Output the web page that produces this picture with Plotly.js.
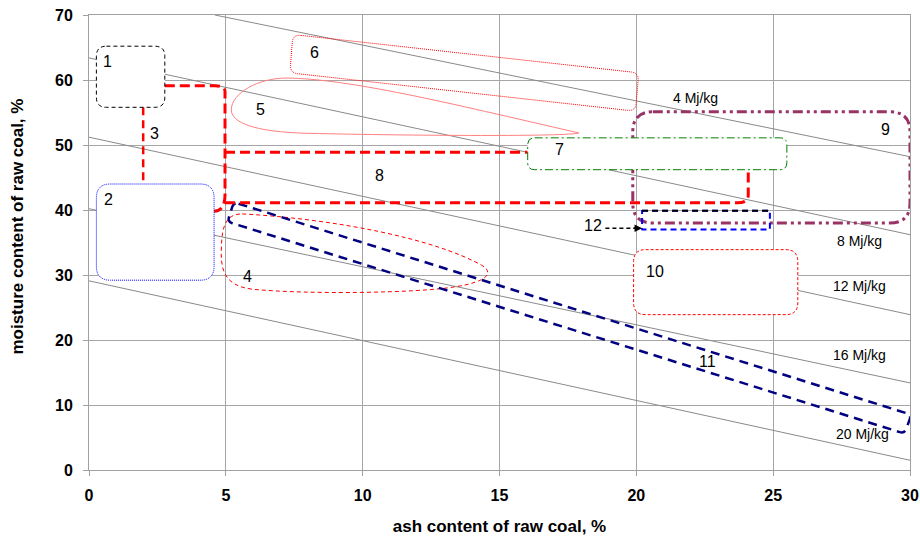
<!DOCTYPE html>
<html>
<head>
<meta charset="utf-8">
<script src="https://cdn.plot.ly/plotly-3.0.1.min.js"></script>
<style>html,body{margin:0;padding:0;background:#fff;}#chart{width:920px;height:538px;}</style>
</head>
<body>
<div id="chart"></div>
<script>
// ---- data ----
// calorific isolines (ash %, moisture %)
const isoX = [[4.6, 30], [0, 30], [0, 30], [0, 30], [0, 30]];
const isoY = [[70, 48.2], [63.4, 36.2], [51.2, 23.9], [40.2, 13.4], [29.1, 1.5]];
const isoLabels = ['4 Mj/kg', '8 Mj/kg', '12 Mj/kg', '16 Mj/kg', '20 Mj/kg'];
const isoLabelX = [22.16, 28.14, 28.14, 28.14, 28.26];
const isoLabelY = [57.2, 35.2, 28.25, 17.7, 5.6];

// rectangular regions [ash min, ash max, moisture min, moisture max]
const region1 = [0.27, 2.77, 55.8, 65.2];
const region2 = [0.27, 4.57, 29.2, 44.0];
const region7 = [16.03, 25.5, 46.2, 51.1];
const region9 = [19.87, 30.0, 38.0, 55.1];
const region10 = [19.9, 25.9, 23.9, 33.9];
const region12 = [20.21, 24.88, 37.0, 39.9];
// slanted regions (corner points)
const region6X = [7.45, 20.09, 19.97, 7.34];
const region6Y = [67.0, 61.1, 55.2, 61.1];
const region11X = [5.29, 30.05, 29.8, 5.06];
const region11Y = [41.2, 8.5, 5.6, 38.2];
// region numbers
const regionNames = ['1', '2', '3', '4', '5', '6', '7', '8', '9', '10', '11', '12'];
const regionLabelX = [0.66, 0.73, 2.4, 5.8, 6.28, 8.23, 17.19, 10.6, 29.11, 20.7, 22.59, 18.4];
const regionLabelY = [62.9, 41.6, 51.7, 29.8, 55.4, 64.2, 49.3, 45.3, 52.35, 30.55, 16.7, 37.6];

// ---- helpers ----
const kx = 820 / 30, ky = 455 / 70; // px per data unit
function rrect(b, r) {
  const [x0, x1, y0, y1] = b, rx = r / kx, ry = r / ky;
  return `M ${x0 + rx} ${y1} L ${x1 - rx} ${y1} Q ${x1} ${y1} ${x1} ${y1 - ry} ` +
    `L ${x1} ${y0 + ry} Q ${x1} ${y0} ${x1 - rx} ${y0} L ${x0 + rx} ${y0} ` +
    `Q ${x0} ${y0} ${x0} ${y0 + ry} L ${x0} ${y1 - ry} Q ${x0} ${y1} ${x0 + rx} ${y1} Z`;
}
function rpoly(xs, ys, r) {
  const n = xs.length;
  const P = xs.map((x, i) => [x * kx, ys[i] * ky]);
  const toward = (a, b) => {
    const dx = b[0] - a[0], dy = b[1] - a[1], d = Math.hypot(dx, dy);
    return [a[0] + dx / d * r, a[1] + dy / d * r];
  };
  const D = p => `${p[0] / kx} ${p[1] / ky}`;
  let s = '';
  for (let i = 0; i <= n; i++) {
    const c = P[i % n], prev = P[(i - 1 + n) % n], next = P[(i + 1) % n];
    const a = toward(c, prev), b = toward(c, next);
    if (i === 0) s += `M ${D(b)} `;
    else s += `L ${D(a)} Q ${D(c)} ${D(b)} `;
  }
  return s + 'Z';
}
const NOFILL = 'rgba(0,0,0,0)';

// ---- traces ----
const traces = isoX.map((xs, i) => ({
  x: xs, y: isoY[i], type: 'scatter', mode: 'lines',
  line: {color: '#8a8a8a', width: 1}, hoverinfo: 'skip', showlegend: false
}));

// ---- shapes ----
const shapes = [];
function sp(path, color, width, dash, fill) {
  shapes.push({type: 'path', xref: 'x', yref: 'y', path: path, layer: 'above',
    line: {color: color, width: width, dash: dash}, fillcolor: fill || NOFILL});
}
// region 9
sp(rrect(region9, 20), '#993366', 3, '10px,4px,3px,4px,3px,4px');
// region 6
sp(rpoly(region6X, region6Y, 8), '#ff0000', 1, '1px,1px');
// region 5 (tear drop)
sp('M 7.2 60.3 C 9.5 60.2 13 56.6 17.9 51.85 C 17.5 51.3 12 51.4 8 51.8 C 6 52.0 5.2 53.5 5.2 55.4 C 5.2 58 6.2 60.3 7.2 60.3 Z',
  '#ff8080', 1, 'solid');
// region 4
sp('M 5.6 39.4 C 9 38.6 12.6 35.6 14.35 31.5 C 14.8 30.4 14.6 29.0 13.4 28.2 C 12 27.2 8 27.0 6 27.8 C 4.9 28.3 4.8 31 4.84 34.4 C 4.86 37.5 5.0 39.4 5.6 39.4 Z',
  '#ff0000', 1, '4px,3px');
// region 11
sp(rpoly(region11X, region11Y, 5), '#000080', 2.5, '9px,6px');
// red connecting lines
sp('M 2.77 59.1 L 4.6 59.1 Q 4.97 59.1 4.97 58.2 L 4.97 42.3 Q 4.97 39.9 4.57 39.8', '#ff0000', 3, '10px,5px');
sp('M 4.97 48.9 L 16.03 48.9', '#ff0000', 3, '10px,5px');
sp('M 4.97 41.1 L 23.7 41.1 Q 24.09 41.1 24.09 42.3 L 24.09 46.2', '#ff0000', 3, '10px,5px');
sp('M 1.98 55.8 L 1.98 44.0', '#ff0000', 2.5, '8px,5px');
// boxes with white fill
sp(rrect(region1, 10), '#000000', 1, '4px,3px', 'white');
sp(rrect(region2, 14), '#0000ff', 1, '1px,1px', 'white');
sp(rrect(region7, 7), '#008000', 1, '8px,3px,2px,3px', 'white');
sp(rrect(region10, 12), '#ff0000', 1, '3px,2px', 'white');
// region 12
sp(rrect(region12, 0.01), '#0000ff', 2, '6px,4px');
sp(`M ${region12[0]} ${region12[3]} L ${region12[1]} ${region12[3]}`, '#000000', 2, '6px,4px');
// arrow line for 12
sp(`M 18.87 37.2 L 20.05 37.2`, '#000000', 1.5, '4px,3px');

// ---- annotations ----
const FONT = 'Liberation Sans, Arial, sans-serif';
const annotations = [];
regionNames.forEach((t, i) => annotations.push({
  x: regionLabelX[i], y: regionLabelY[i], xref: 'x', yref: 'y', text: t, showarrow: false,
  font: {family: FONT, size: 16, color: '#000'}
}));
isoLabels.forEach((t, i) => annotations.push({
  x: isoLabelX[i], y: isoLabelY[i], xref: 'x', yref: 'y', text: t, showarrow: false,
  font: {family: FONT, size: 14, color: '#000'}
}));
annotations.push({x: region12[0], y: 37.2, xref: 'x', yref: 'y', ax: -10, ay: 0, text: '',
  showarrow: true, arrowhead: 2, arrowsize: 1, arrowwidth: 1.5, arrowcolor: '#000', standoff: 0});
annotations.push({x: -0.0865, y: 0.535, xref: 'paper', yref: 'paper', xanchor: 'center', yanchor: 'middle',
  text: 'moisture content of raw coal, %',
  textangle: -90, showarrow: false, font: {family: FONT, size: 17, color: '#000', weight: 'bold'}});

const axisCommon = {
  showgrid: true, gridcolor: '#a6a6a6', gridwidth: 1, zeroline: false,
  showline: true, linecolor: '#a0a0a0', linewidth: 1, mirror: true,
  ticks: 'outside', ticklen: 5, tickcolor: '#a0a0a0',
  tickfont: {family: FONT, size: 16, color: '#000', weight: 'bold'}
};
const layout = {
  width: 920, height: 538,
  margin: {l: 89, r: 10, t: 15, b: 68},
  paper_bgcolor: '#fff', plot_bgcolor: '#fff',
  showlegend: false,
  xaxis: Object.assign({}, axisCommon, {range: [0, 30], dtick: 5, tick0: 0, ticklabelstandoff: 6,
    title: {text: 'ash content of raw coal, %', font: {family: FONT, size: 17, color: '#000', weight: 'bold'}, standoff: 16}}),
  yaxis: Object.assign({}, axisCommon, {range: [0, 70], dtick: 10, tick0: 0, ticklabelstandoff: 7}),
  shapes: shapes,
  annotations: annotations
};
Plotly.newPlot('chart', traces, layout, {displayModeBar: false, staticPlot: true});
</script>
</body>
</html>
